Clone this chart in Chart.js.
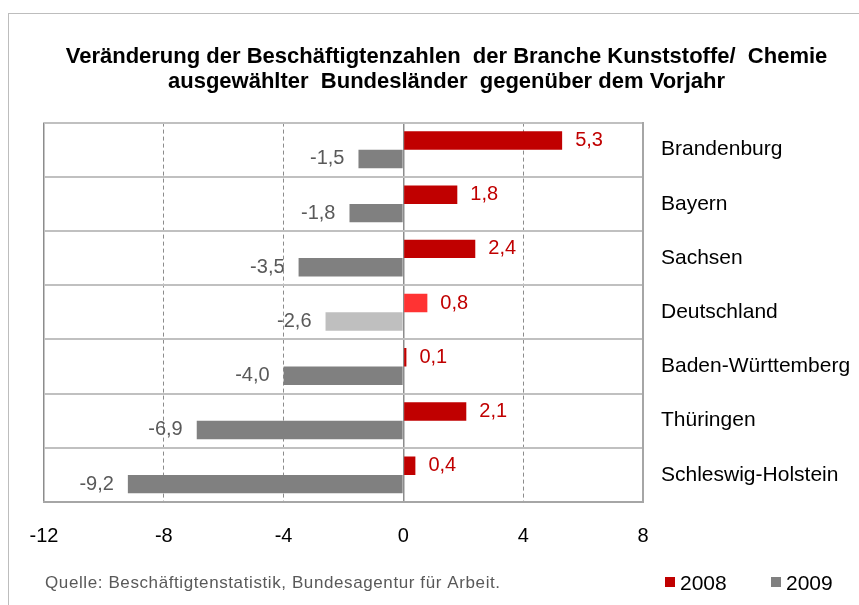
<!DOCTYPE html>
<html>
<head>
<meta charset="utf-8">
<script src="https://cdn.jsdelivr.net/npm/chart.js@4.4.1/dist/chart.umd.min.js"></script>
<style>
  body { margin: 0; overflow: hidden; background: #fff; }
  #rahmen { position: absolute; left: 8px; top: 13px; width: 900px; height: 700px; border: 1px solid #bdbdbd; }
  #box { position: absolute; left: 0; top: 0; width: 859px; height: 605px; }
</style>
</head>
<body>
<div id="rahmen"></div>
<div id="box"><canvas id="grafik"></canvas></div>
<script>
// Daten
const laender = ['Brandenburg', 'Bayern', 'Sachsen', 'Deutschland', 'Baden-Württemberg', 'Thüringen', 'Schleswig-Holstein']
const werte2008 = [5.3, 1.8, 2.4, 0.8, 0.1, 2.1, 0.4]
const werte2009 = [-1.5, -1.8, -3.5, -2.6, -4.0, -6.9, -9.2]
const jahre = ['2008', '2009']

const titel = ['Veränderung der Beschäftigtenzahlen  der Branche Kunststoffe/  Chemie',
               'ausgewählter  Bundesländer  gegenüber dem Vorjahr']
const quelle = 'Quelle: Beschäftigtenstatistik, Bundesagentur für Arbeit.'

// Farben - Deutschland hervorgehoben
const rot = laender.map(l => l === 'Deutschland' ? '#ff3333' : '#c00000')
const grau = laender.map(l => l === 'Deutschland' ? '#bfbfbf' : '#808080')

const schrift = 'Liberation Sans, Arial, sans-serif'

// Werte an die Balken schreiben
const wertLabels = {
    id: 'wertLabels',
    afterDatasetsDraw(chart) {
        const ctx = chart.ctx
        ctx.save()
        ctx.font = '20px ' + schrift
        ctx.textBaseline = 'middle'
        chart.data.datasets.forEach((ds, i) => {
            const meta = chart.getDatasetMeta(i)
            meta.data.forEach((bar, j) => {
                const v = ds.data[j]
                const txt = v.toFixed(1).replace('.', ',')
                if (v >= 0) {
                    ctx.fillStyle = '#c00000'
                    ctx.textAlign = 'left'
                    ctx.fillText(txt, bar.x + 13, bar.y)
                } else {
                    ctx.fillStyle = '#595959'
                    ctx.textAlign = 'right'
                    ctx.fillText(txt, bar.x - 14, bar.y)
                }
            })
        })
        ctx.restore()
    }
}

// Legende und Quelle unten
const fusszeile = {
    id: 'fusszeile',
    afterDraw(chart) {
        const ctx = chart.ctx
        ctx.save()
        ctx.textBaseline = 'middle'
        ctx.font = '17px ' + schrift
        ctx.letterSpacing = '0.6px'
        ctx.fillStyle = '#595959'
        ctx.textAlign = 'left'
        ctx.fillText(quelle, 45, 583)
        ctx.letterSpacing = '0px'

        ctx.font = '21px ' + schrift
        const xs = [665, 771]
        chart.data.datasets.forEach((ds, i) => {
            ctx.fillStyle = i === 0 ? '#c00000' : '#808080'
            ctx.fillRect(xs[i], 577, 10, 10)
            ctx.fillStyle = '#000'
            ctx.fillText(ds.label, xs[i] + 15, 584)
        })
        ctx.restore()
    }
}

const daten = {
    labels: laender,
    datasets: [{
        label: jahre[0],
        data: werte2008,
        backgroundColor: rot,
        barPercentage: 1,
        categoryPercentage: 0.68
    }, {
        label: jahre[1],
        data: werte2009,
        backgroundColor: grau,
        barPercentage: 1,
        categoryPercentage: 0.68
    }]
}

const randWerte = [-12, 0, 8]

const konfiguration = {
    type: 'bar',
    data: daten,
    options: {
        indexAxis: 'y',
        responsive: true,
        maintainAspectRatio: false,
        animation: false,
        layout: {
            padding: { left: 44, right: 10, top: 0, bottom: 35 }
        },
        plugins: {
            legend: { display: false },
            tooltip: { enabled: false },
            title: {
                display: true,
                text: titel,
                color: '#000',
                font: { family: schrift, size: 22, weight: 'bold', lineHeight: 1.15 },
                padding: { top: 44, bottom: 28 }
            }
        },
        scales: {
            x: {
                min: -12,
                max: 8,
                ticks: {
                    stepSize: 4,
                    color: '#000',
                    font: { family: schrift, size: 20 },
                    padding: 22
                },
                grid: {
                    drawTicks: false,
                    color: '#8c8c8c',
                    lineWidth: ctx => randWerte.includes(ctx.tick.value) ? 1.5 : 1
                },
                border: {
                    display: true,
                    color: '#a6a6a6',
                    width: 2,
                    dash: ctx => randWerte.includes(ctx.tick.value) ? [] : [4, 3]
                }
            },
            y: {
                position: 'right',
                afterFit: scale => { scale.width = 206 },
                ticks: {
                    color: '#000',
                    font: { family: schrift, size: 21 },
                    padding: 18,
                    crossAlign: 'near'
                },
                grid: {
                    offset: true,
                    drawTicks: false,
                    color: '#c0c0c0',
                    lineWidth: 2
                },
                border: { display: true, color: '#a6a6a6', width: 2 }
            }
        }
    },
    plugins: [wertLabels, fusszeile]
}

const grafik = new Chart(document.getElementById('grafik').getContext('2d'), konfiguration)
</script>
</body>
</html>
